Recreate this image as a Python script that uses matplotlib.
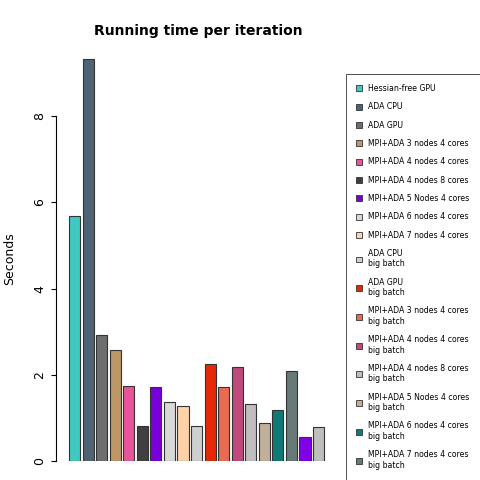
import matplotlib
matplotlib.use("Agg")
import matplotlib.pyplot as plt
from matplotlib.patches import Patch

labels = ["Hessian-free GPU", "ADA CPU", "ADA GPU", "MPI+ADA 3 nodes 4 cores",
          "MPI+ADA 4 nodes 4 cores", "MPI+ADA 4 nodes 8 cores", "MPI+ADA 5 Nodes 4 cores",
          "MPI+ADA 6 nodes 4 cores", "MPI+ADA 7 nodes 4 cores",
          "ADA CPU\nbig batch", "ADA GPU\nbig batch", "MPI+ADA 3 nodes 4 cores\nbig batch",
          "MPI+ADA 4 nodes 4 cores\nbig batch", "MPI+ADA 4 nodes 8 cores\nbig batch",
          "MPI+ADA 5 Nodes 4 cores\nbig batch", "MPI+ADA 6 nodes 4 cores\nbig batch",
          "MPI+ADA 7 nodes 4 cores\nbig batch"]
seconds = [5.69, 9.33, 2.92, 2.58, 1.74, 0.81, 1.71, 1.36, 1.28, 0.82,
           2.25, 1.71, 2.19, 1.32, 0.89, 1.18, 2.09, 0.56, 0.78]
colors = ["#40C9C0", "#4E6475", "#6E6E6E", "#BE9766", "#E85399", "#404040", "#7700D9",
          "#D8D8D8", "#FFD1A8", "#CFCFCF", "#E52808", "#E86B52", "#C04A7C", "#BEBEBE",
          "#C1AF99", "#0F7A77", "#677977", "#8000E8", "#BEBEBE"]

fig = plt.figure(figsize=(4.8, 4.8), dpi=100)
ax = fig.add_axes([60/480, 19/480, 270/480, 405/480])
ax.bar(range(len(seconds)), seconds, width=0.82, color=colors, edgecolor="#333333", linewidth=0.8)
ax.set_xlim(-1.07, 18.84)
ax.set_ylim(0, 9.4)
for s in ["top", "right", "bottom"]:
    ax.spines[s].set_visible(False)
ax.spines["left"].set_bounds(0, 8)
ax.spines["left"].set_position(("outward", 3))
ax.set_xticks([])
ax.set_yticks([0, 2, 4, 6, 8])
ax.tick_params(axis="y", labelsize=9, labelrotation=90)
for t in ax.get_yticklabels():
    t.set_va("center")
ax.set_ylabel("Seconds", fontsize=9, labelpad=12)
fig.text(198/480, 1 - 31/480, "Running time per iteration", ha="center", va="center",
         fontsize=10, fontweight="bold")

handles = [Patch(facecolor=c, edgecolor="#333333", linewidth=0.6) for c in colors[:17]]
leg = fig.legend(handles, labels, loc="upper left", bbox_to_anchor=(342/480, 1 - 70/480),
                 fontsize=5.6, frameon=True, fancybox=False, edgecolor="black",
                 handlelength=0.8, handleheight=0.8, labelspacing=1.2, borderpad=1.3)
leg.get_frame().set_linewidth(0.6)
fig.savefig("out.png", dpi=100)
